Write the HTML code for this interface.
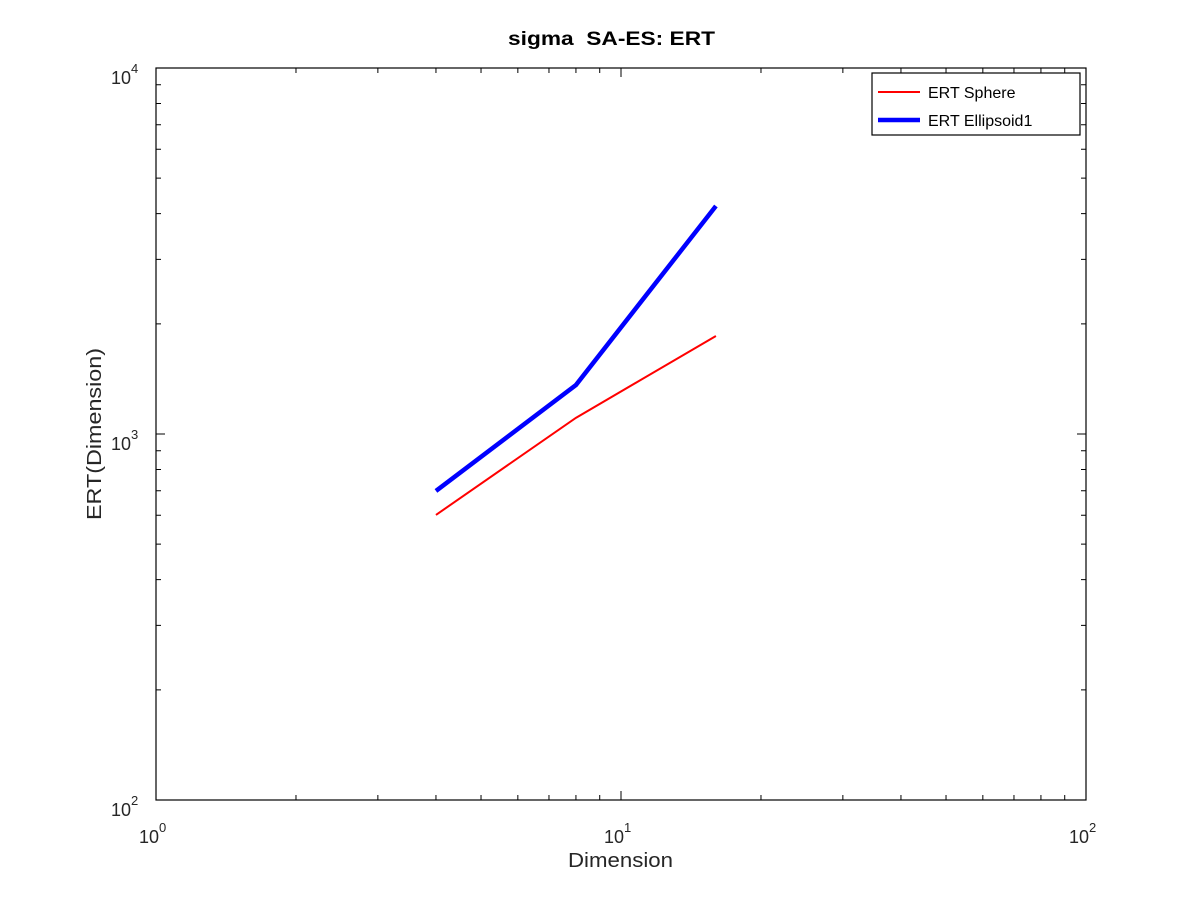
<!DOCTYPE html>
<html><head><meta charset="utf-8"><style>
body{margin:0;background:#fff;font-family:"Liberation Sans",sans-serif;}
svg{display:block}
</style></head><body>
<svg width="1200" height="898" font-family="Liberation Sans, sans-serif">
<rect width="1200" height="898" fill="#fff"/>
<text x="508" y="45" font-size="19" font-weight="bold" textLength="207" lengthAdjust="spacingAndGlyphs" xml:space="preserve">sigma  SA-ES: ERT</text>
<g id="axes"></g>
<g id="series"></g>
<text x="568" y="867" font-size="20" fill="#262626" textLength="105" lengthAdjust="spacingAndGlyphs">Dimension</text>
<text transform="translate(101,520) rotate(-90)" font-size="20" fill="#262626" textLength="172" lengthAdjust="spacingAndGlyphs">ERT(Dimension)</text>
<g>
<rect x="872" y="73" width="208" height="62" fill="#fff" stroke="#000" stroke-width="1.2"/>
<line x1="878" y1="92" x2="920" y2="92" stroke="#f00" stroke-width="2"/>
<text x="928" y="98" font-size="16">ERT Sphere</text>
<line x1="878" y1="120" x2="920" y2="120" stroke="#00f" stroke-width="4.5"/>
<text x="928" y="126" font-size="16">ERT Ellipsoid1</text>
</g>
</svg>
<script>
const dims = [4, 8, 16];
const sphere = [601, 1107, 1853];
const ellipsoid = [699, 1361, 4198];
const xTickLabels = ["0", "1", "2"];
const yTickLabels = ["2", "3", "4"];

const L=156,R=1086,T=68,B=800;
const xs=v=>L+(Math.log10(v)-0)/2*(R-L);
const ys=v=>B-(Math.log10(v)-2)/2*(B-T);
const NS="http://www.w3.org/2000/svg";
const ax=document.getElementById('axes');
function mk(tag,attrs,parent){const e=document.createElementNS(NS,tag);for(const k in attrs)e.setAttribute(k,attrs[k]);parent.appendChild(e);return e;}
const frame=mk('rect',{x:L,y:T,width:R-L,height:B-T,fill:'none',stroke:'#000','stroke-width':1.2},ax);


for(let d=0;d<2;d++)for(let m=1;m<=10;m++){
  if(d==1&&m==10)continue;
  const v=m*Math.pow(10,d);const len=m==1?9:5;
  const x=xs(v);
  const t1=mk('path',{d:`M${x},${B}V${B-len}M${x},${T}V${T+len}`,stroke:'#000','stroke-width':1},ax);
  
  
  const y=ys(v*100);
  const t2=mk('path',{d:`M${L},${y}H${L+len}M${R},${y}H${R-len}`,stroke:'#000','stroke-width':1},ax);
  
  
}
xTickLabels.forEach((p,i)=>{
  const x=xs(Math.pow(10,+p));
  const t=mk('text',{x:x-17,y:843,'font-size':18,fill:'#262626'},ax);
  
  
  t.textContent='10';
  const s=mk('tspan',{dy:-11,'font-size':13},t);s.textContent=p;
});
yTickLabels.forEach(p=>{
  const y=ys(Math.pow(10,+p));
  const t=mk('text',{x:111,y:y+16,'font-size':18,fill:'#262626'},ax);
  
  
  t.textContent='10';
  const s=mk('tspan',{dy:-11,'font-size':13},t);s.textContent=p;
});
const sg=document.getElementById('series');
function line(vals,color,w,name){
  const p=mk('polyline',{points:dims.map((d,i)=>xs(d)+','+ys(vals[i])).join(' '),fill:'none',stroke:color,'stroke-width':w},sg);
  
  
}
line(sphere,'#f00',2,'sphere-line');
line(ellipsoid,'#00f',4.5,'ellipsoid-line');
</script>
</body></html>
